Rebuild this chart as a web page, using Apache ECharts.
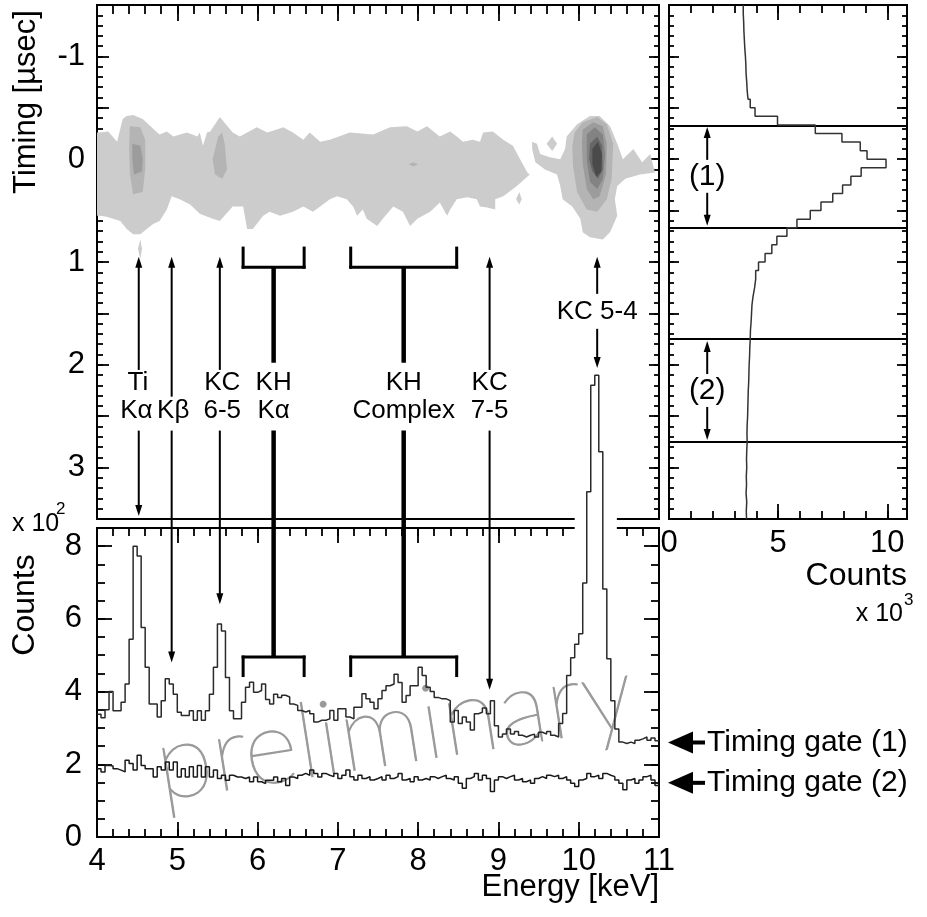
<!DOCTYPE html>
<html><head><meta charset="utf-8">
<script src="https://cdn.jsdelivr.net/npm/echarts@6/dist/echarts.min.js"></script>
<style>html,body{margin:0;padding:0;background:#fff}#c{width:927px;height:917px}</style>
</head><body><div id="c"></div>
<script>
// ---------------- DATA ----------------
const ENERGY_START = 4.0, ENERGY_BIN = 0.05;           // keV
const energyTickLabels = [4,5,6,7,8,9,10,11];
// Timing gate (1) spectrum, counts x10^2 per 0.05 keV bin (4.00 .. 11.00 keV)
const gate1Counts = [
 3.38,3.28,3.50,4.00,3.47,3.47,3.71,4.21,5.44,8.00,
 7.73,5.76,4.67,3.66,3.66,3.30,3.75,4.35,4.21,3.93,
 3.43,3.34,3.34,3.47,3.21,3.47,3.21,3.47,3.93,4.67,
 5.86,5.67,4.39,3.47,3.25,3.25,3.71,4.12,4.26,3.98,
 4.03,4.21,3.78,3.66,3.93,3.84,3.90,3.85,3.66,3.62,
 3.48,3.44,3.48,3.39,3.16,3.21,3.21,3.25,3.48,3.21,
 3.53,3.53,3.30,3.25,3.57,3.57,3.94,3.80,3.71,3.53,
 3.80,4.03,4.16,4.21,4.48,4.25,3.71,3.89,4.16,4.16,
 4.67,4.44,4.12,4.00,3.84,3.80,3.80,3.75,3.16,3.48,
 3.12,3.30,3.16,2.94,3.39,3.43,3.55,3.39,3.75,3.06,
 2.75,2.83,2.97,2.83,2.90,2.80,2.75,2.80,2.83,2.75,
 2.88,2.83,2.90,2.80,2.75,3.12,3.40,4.44,4.93,5.30,
 5.59,6.99,9.50,12.43,12.70,10.60,6.82,4.90,3.75,2.97,
 2.61,2.57,2.61,2.57,2.66,2.70,2.75,2.66,2.72,2.65
];
// Timing gate (2) spectrum
const gate2Counts = [
 1.88,1.79,1.97,1.95,1.88,1.84,1.79,2.11,2.02,1.84,
 2.25,1.97,1.88,1.88,1.65,1.93,1.84,2.06,1.84,2.06,
 1.65,1.88,1.65,1.93,1.65,1.97,1.65,1.93,1.65,1.84,
 1.61,1.70,1.56,1.70,1.65,1.65,1.61,1.65,1.52,1.65,
 1.52,1.47,1.56,1.56,1.65,1.52,1.61,1.42,1.65,1.61,
 1.70,1.75,1.70,1.84,1.75,1.65,1.75,1.70,1.66,1.75,
 1.61,1.70,1.84,1.66,1.57,1.70,1.61,1.66,1.57,1.61,
 1.66,1.57,1.70,1.61,1.66,1.75,1.57,1.61,1.52,1.66,
 1.57,1.61,1.57,1.66,1.61,1.66,1.70,1.61,1.57,1.66,
 1.48,1.34,1.61,1.66,1.75,1.57,1.70,1.61,1.25,1.57,
 1.66,1.61,1.66,1.70,1.57,1.61,1.52,1.57,1.48,1.61,
 1.66,1.61,1.70,1.66,1.70,1.61,1.66,1.57,1.48,1.39,
 1.57,1.61,1.75,1.66,1.70,1.61,1.75,1.70,1.66,1.57,
 1.48,1.30,1.57,1.61,1.48,1.57,1.66,1.70,1.57,1.42
];
// Timing projection, counts x10^3 per 1/12 usec bin (-1.5 .. 3.5 usec)
const TIMING_START = -1.5, TIMING_BIN = 1/12;
const timingCounts = [
 3.40,3.42,3.43,3.45,3.47,3.50,3.52,3.53,3.56,3.58,
 3.62,3.72,3.94,4.97,6.70,7.92,8.76,9.07,9.94,8.80,
 8.33,7.95,7.50,6.96,6.47,5.86,5.40,4.94,4.71,4.40,
 4.10,3.97,3.92,3.85,3.80,3.78,3.76,3.73,3.72,3.70,
 3.69,3.67,3.66,3.65,3.63,3.62,3.61,3.60,3.58,3.57,
 3.58,3.56,3.55,3.56,3.54,3.55,3.53,3.56,3.54,3.55
];
const gate1Range = [-1/3, 2/3];
const gate2Range = [1.75, 2.75];
const timingTickLabels = [-1,0,1,2,3];
const countTickLabels = [0,2,4,6,8];
const projTickLabels = [0,5,10];

// Contour regions (energy keV, timing usec); level 1 = outermost
const bandLevel1 = [[4.00,-0.26],[4.04,-0.26],[4.14,-0.27],[4.25,-0.17],[4.32,-0.39],[4.37,-0.42],[4.45,-0.43],[4.57,-0.39],[4.75,-0.26],[4.78,-0.24],[4.87,-0.27],[4.95,-0.22],[5.12,-0.26],[5.25,-0.22],[5.28,-0.26],[5.32,-0.13],[5.37,-0.26],[5.41,-0.27],[5.53,-0.41],[5.69,-0.26],[5.78,-0.22],[5.87,-0.26],[5.99,-0.31],[6.12,-0.26],[6.24,-0.29],[6.32,-0.31],[6.44,-0.26],[6.57,-0.19],[6.65,-0.26],[6.78,-0.17],[6.90,-0.19],[7.15,-0.26],[7.44,-0.24],[7.65,-0.31],[7.86,-0.32],[7.99,-0.27],[8.11,-0.32],[8.27,-0.22],[8.40,-0.27],[8.48,-0.22],[8.56,-0.17],[8.68,-0.19],[8.77,-0.17],[8.81,-0.26],[8.93,-0.27],[9.06,-0.19],[9.18,-0.13],[9.27,0.00],[9.36,0.13],[9.39,0.15],
 [9.23,0.26],[9.06,0.36],[8.96,0.39],[8.96,0.49],[8.86,0.47],[8.77,0.46],[8.73,0.39],[8.61,0.37],[8.48,0.39],[8.40,0.49],[8.36,0.55],[8.27,0.42],[8.15,0.51],[7.99,0.58],[7.90,0.65],[7.81,0.51],[7.69,0.46],[7.56,0.58],[7.49,0.65],[7.36,0.58],[7.31,0.49],[7.24,0.55],[7.19,0.46],[7.11,0.39],[6.99,0.36],[6.90,0.39],[6.78,0.46],[6.69,0.51],[6.57,0.46],[6.44,0.51],[6.28,0.55],[6.15,0.51],[6.07,0.55],[5.94,0.68],[5.87,0.68],[5.82,0.46],[5.69,0.46],[5.53,0.60],[5.44,0.58],[5.28,0.53],[5.16,0.44],[5.03,0.39],[4.93,0.36],[4.87,0.49],[4.78,0.60],[4.70,0.63],[4.62,0.68],[4.54,0.73],[4.45,0.73],[4.37,0.68],[4.29,0.60],[4.20,0.58],[4.12,0.56],[4.04,0.55],[4.00,0.55]];
const kc54Level1 = [[9.42,-0.17],[9.48,-0.15],[9.52,-0.05],[9.64,-0.02],[9.77,0.00],[9.83,-0.10],[9.85,-0.22],[9.98,-0.34],[10.14,-0.42],[10.26,-0.42],[10.39,-0.32],[10.48,-0.15],[10.55,0.00],[10.68,-0.10],[10.79,0.03],[10.89,-0.05],[10.95,0.13],[10.76,0.15],[10.58,0.19],[10.48,0.26],[10.45,0.39],[10.48,0.55],[10.39,0.71],[10.30,0.78],[10.14,0.76],[10.05,0.71],[10.02,0.58],[9.92,0.46],[9.80,0.39],[9.77,0.26],[9.73,0.15],[9.58,0.10],[9.46,0.03],[9.42,-0.10]];
const islandLevel1a = [[9.67,-0.22],[9.73,-0.15],[9.67,-0.08],[9.60,-0.15]];
const islandLevel1b = [[9.26,0.32],[9.29,0.39],[9.26,0.44],[9.22,0.39]];
const islandLevel1c = [[4.54,0.78],[4.56,0.87],[4.54,0.97],[4.51,0.87]];
const tiLevel2 = [[4.41,-0.32],[4.54,-0.31],[4.60,-0.19],[4.60,0.10],[4.57,0.32],[4.45,0.34],[4.41,0.15],[4.40,-0.10]];
const tiLevel3 = [[4.44,-0.15],[4.54,-0.13],[4.57,0.00],[4.56,0.12],[4.46,0.15],[4.44,0.00]];
const kc65Level2 = [[5.51,-0.22],[5.56,-0.26],[5.59,-0.15],[5.62,0.10],[5.56,0.19],[5.47,0.15],[5.44,0.00]];
const khLevel2 = [[7.94,0.03],[8.00,0.05],[7.94,0.07],[7.88,0.05]];
const kc54Level2 = [[9.95,-0.26],[10.05,-0.36],[10.23,-0.41],[10.35,-0.34],[10.43,-0.15],[10.41,0.19],[10.35,0.39],[10.23,0.51],[10.10,0.49],[9.98,0.32],[9.93,0.07],[9.92,-0.13]];
const kc54Level3 = [[10.05,-0.29],[10.18,-0.36],[10.30,-0.32],[10.35,-0.15],[10.34,0.15],[10.26,0.36],[10.18,0.39],[10.10,0.29],[10.05,0.05],[10.04,-0.15]];
const kc54Level4 = [[10.10,-0.24],[10.20,-0.31],[10.30,-0.24],[10.33,-0.05],[10.30,0.19],[10.23,0.29],[10.14,0.22],[10.10,0.00]];
const kc54Level5 = [[10.14,-0.15],[10.23,-0.22],[10.29,-0.13],[10.30,0.10],[10.24,0.19],[10.17,0.12],[10.13,0.00]];
const kc54Level6 = [[10.17,-0.10],[10.24,-0.17],[10.29,-0.05],[10.28,0.12],[10.22,0.17],[10.17,0.05]];
const contourRegions = [
 {level:1, pts:bandLevel1},{level:1, pts:kc54Level1},{level:1, pts:islandLevel1a},{level:1, pts:islandLevel1b},{level:1, pts:islandLevel1c},
 {level:2, pts:tiLevel2},{level:2, pts:kc65Level2},{level:2, pts:khLevel2},{level:2, pts:kc54Level2},
 {level:3, pts:tiLevel3},{level:3, pts:kc54Level3},
 {level:4, pts:kc54Level4},{level:5, pts:kc54Level5},{level:6, pts:kc54Level6}
];

// Line annotations (energies in keV)
const lineMarks = [
 {energy:4.52, text:['Ti','Kα'], textEnergy:[4.51,4.49], upFrom:2.05, downTip:{panel:'t', v:3.47}},
 {energy:4.93, text:[null,'Kβ'], textEnergy:[4.95,4.95], upFrom:2.31, downTip:{panel:'c', v:4.80}},
 {energy:5.53, text:['KC','6-5'], textEnergy:[5.56,5.56], upFrom:2.05, downTip:{panel:'c', v:6.40}},
 {energy:8.89, text:['KC','7-5'], textEnergy:[8.89,8.89], upFrom:2.05, downTip:{panel:'c', v:4.05}}
];
const bracketMarks = [
 {from:5.82, to:6.58, stem:6.20, text:['KH','Kα']},
 {from:7.16, to:8.48, stem:7.82, text:['KH','Complex']}
];
const kc54Mark = {energy:10.23, text:'KC 5-4'};

// ---------------- STYLES ----------------
const FONT = '"Liberation Sans", Arial, Helvetica, sans-serif';
const contourColors = ['#cccccc','#b4b4b4','#9c9c9c','#838383','#666666','#4a4a4a'];
const GRID_TOP = {left:97, top:5, width:562, height:514};
const GRID_BOT = {left:97, top:528, width:562, height:309};
const GRID_RIGHT = {left:669, top:5, width:238, height:514};

function ax(grid, pos, min, max, interval, len, extra) {
  return Object.assign({
    gridIndex: grid, type: 'value', position: pos, min: min, max: max, interval: interval,
    axisLine: {show: false, onZero: false},
    axisTick: {show: true, inside: true, length: len, lineStyle: {color: '#000', width: 1.8}},
    axisLabel: {show: false},
    splitLine: {show: false}
  }, extra || {});
}
function lbl(list, margin) {
  return {axisLabel: {show: true, fontSize: 31, fontFamily: FONT, color: '#000', margin: margin,
    formatter: v => { const r = Math.round(v); return (Math.abs(v - r) < 1e-6 && list.indexOf(r) >= 0) ? String(r) : ''; }}};
}
const tInv = {inverse: true};

const xAxes = [
  ax(0,'top',4,11,1,16),                         // 0
  ax(0,'top',4,11,0.2,9),                        // 1
  ax(1,'bottom',4,11,1,15, lbl(energyTickLabels,9)), // 2
  ax(1,'bottom',4,11,0.2,8),                     // 3
  ax(1,'top',4,11,1,15),                         // 4
  ax(1,'top',4,11,0.2,8),                        // 5
  ax(2,'bottom',0,10.9,5,15, lbl(projTickLabels,9)), // 6
  ax(2,'bottom',0,10.9,1,8),                     // 7
  ax(2,'top',0,10.9,5,15),                       // 8
  ax(2,'top',0,10.9,1,8)                         // 9
];
const yAxes = [
  ax(0,'left',-1.5,3.5,0.5,12, Object.assign({}, tInv, lbl(timingTickLabels,12))), // 0
  ax(0,'left',-1.5,3.5,0.1,6, tInv),    // 1
  ax(0,'right',-1.5,3.5,0.5,10, tInv),  // 2
  ax(0,'right',-1.5,3.5,0.1,5, tInv),   // 3
  ax(1,'left',0,8.5,2,15, lbl(countTickLabels,15)), // 4
  ax(1,'left',0,8.5,0.5,8),             // 5
  ax(1,'right',0,8.5,2,15),             // 6
  ax(1,'right',0,8.5,0.5,8),            // 7
  ax(2,'left',-1.5,3.5,0.5,10, tInv),   // 8
  ax(2,'left',-1.5,3.5,0.1,5, tInv),    // 9
  ax(2,'right',-1.5,3.5,0.5,10, tInv),  // 10
  ax(2,'right',-1.5,3.5,0.1,5, tInv)    // 11
];

function stepData(counts) {
  const d = counts.map((v, i) => [ENERGY_START + i * ENERGY_BIN, v]);
  d.push([ENERGY_START + counts.length * ENERGY_BIN, counts[counts.length - 1]]);
  return d;
}
const projData = [];
timingCounts.forEach((v, j) => {
  projData.push([v, TIMING_START + j * TIMING_BIN]);
  projData.push([v, TIMING_START + (j + 1) * TIMING_BIN]);
});

const gridStyle = {show: true, borderColor: '#000', borderWidth: 2, backgroundColor: 'transparent'};
const option = {
  animation: false,
  backgroundColor: '#fff',
  grid: [Object.assign({}, GRID_TOP, gridStyle), Object.assign({}, GRID_BOT, gridStyle), Object.assign({}, GRID_RIGHT, gridStyle)],
  xAxis: xAxes,
  yAxis: yAxes,
  series: [
    {
      type: 'custom', xAxisIndex: 0, yAxisIndex: 0, z: 2, silent: true,
      data: contourRegions.map(r => r.pts[0]),
      renderItem: (params, api) => {
        const r = contourRegions[params.dataIndex];
        return {type: 'polygon', shape: {points: r.pts.map(p => api.coord(p))},
          style: {fill: contourColors[r.level - 1], stroke: 'none'}};
      }
    },
    {type: 'line', xAxisIndex: 2, yAxisIndex: 4, step: 'end', data: stepData(gate2Counts),
     symbol: 'none', lineStyle: {color: '#1a1a1a', width: 1.5}, z: 5, clip: true, silent: true},
    {type: 'line', xAxisIndex: 2, yAxisIndex: 4, step: 'end', data: stepData(gate1Counts),
     symbol: 'none', lineStyle: {color: '#2a2a2a', width: 1.5}, z: 6, clip: false, silent: true},
    {type: 'line', xAxisIndex: 6, yAxisIndex: 8, data: projData,
     symbol: 'none', lineStyle: {color: '#333', width: 1.5}, z: 5, silent: true,
     markLine: {silent: true, symbol: ['none','none'], label: {show: false},
       lineStyle: {color: '#000', width: 2, type: 'solid'},
       data: gate1Range.concat(gate2Range).map(v => ({yAxis: v}))}}
  ]
};

const chart = echarts.init(document.getElementById('c'), null, {renderer: 'canvas', width: 927, height: 917});
chart.setOption(option);

// ---------------- ANNOTATIONS ----------------
const X = e => chart.convertToPixel({xAxisIndex: 2}, e);
const YT = t => chart.convertToPixel({yAxisIndex: 0}, t);
const YB = c => chart.convertToPixel({yAxisIndex: 4}, c);
const XR = c => chart.convertToPixel({xAxisIndex: 6}, c);
const YR = t => chart.convertToPixel({yAxisIndex: 8}, t);

const els = [];
const Z = 20;
function seg(x1, y1, x2, y2, w) {
  els.push({type: 'line', z: Z, silent: true, shape: {x1, y1, x2, y2}, style: {stroke: '#000', lineWidth: w, lineCap: 'butt'}});
}
function vArrow(x, yFrom, yTip) {
  const dir = yTip > yFrom ? 1 : -1;
  seg(x, yFrom, x, yTip - dir * 8, 2);
  els.push({type: 'polygon', z: Z, silent: true, shape: {points: [[x, yTip], [x - 3.5, yTip - dir * 11], [x + 3.5, yTip - dir * 11]]}, style: {fill: '#000'}});
}
function txt(x, y, s, size, align, extra) {
  els.push(Object.assign({type: 'text', z: Z, silent: true, x, y,
    style: {text: s, font: size + 'px ' + FONT, fill: '#000', align: align || 'center', verticalAlign: 'middle'}}, extra || {}));
}
const ROW = [2.18, 2.45];      // label rows (timing units of top panel)
const UP_TIP = 0.95, DOWN_FROM = 2.64;

lineMarks.forEach(m => {
  const x = X(m.energy);
  vArrow(x, YT(m.upFrom), YT(UP_TIP));
  const tip = m.downTip.panel === 't' ? YT(m.downTip.v) : YB(m.downTip.v);
  vArrow(x, YT(DOWN_FROM), tip);
  m.text.forEach((s, i) => { if (s) txt(X(m.textEnergy[i]), YT(ROW[i]), s, 26); });
});
bracketMarks.forEach(b => {
  const x1 = X(b.from), x2 = X(b.to), xs = X(b.stem);
  const yTopLeg = YT(0.85), yTopBar = YT(1.05);
  seg(x1, yTopLeg, x1, yTopBar + 1.5, 3); seg(x2, yTopLeg, x2, yTopBar + 1.5, 3);
  seg(x1 - 1.5, yTopBar, x2 + 1.5, yTopBar, 3);
  seg(xs, yTopBar, xs, YT(1.98), 4.5);
  const yBar = YB(4.95), yLeg = YB(4.40);
  seg(xs, YT(DOWN_FROM), xs, yBar, 4.5);
  seg(x1 - 1.5, yBar, x2 + 1.5, yBar, 3);
  seg(x1, yBar - 1.5, x1, yLeg, 3); seg(x2, yBar - 1.5, x2, yLeg, 3);
  b.text.forEach((s, i) => txt(xs, YT(ROW[i]), s, 26));
});
{
  const x = X(kc54Mark.energy);
  vArrow(x, YT(1.31), YT(UP_TIP));
  txt(x, YT(1.48), kc54Mark.text, 26);
  vArrow(x, YT(1.65), YT(2.03));
}
// gap where the KC 5-4 peak passes between the panels
{
  const over = [];
  gate1Counts.forEach((v, i) => { if (v > 8.5) over.push(i); });
  const e1 = ENERGY_START + (over[0] - 3) * ENERGY_BIN;
  const e2 = ENERGY_START + (over[over.length - 1] + 1 + 3.5) * ENERGY_BIN;
  const x1 = X(e1), x2 = X(e2);
  els.push({type: 'rect', z: 3, silent: true, shape: {x: x1, y: YT(3.5) - 3, width: x2 - x1, height: YB(8.5) - YT(3.5) + 19}, style: {fill: '#fff'}});
}
// timing gates in the projection panel
[[gate1Range, '(1)'], [gate2Range, '(2)']].forEach(([r, s]) => {
  const x = XR(1.75), mid = (r[0] + r[1]) / 2;
  txt(x, YR(mid), s, 30);
  vArrow(x, YR(mid - 0.16), YR(r[0]) + 2);
  vArrow(x, YR(mid + 0.16), YR(r[1]) - 2);
});
// gate labels at the right of the spectrum
[[2.60, 'Timing gate (1)'], [1.49, 'Timing gate (2)']].forEach(([c, s]) => {
  const y = YB(c), xr = GRID_BOT.left + GRID_BOT.width;
  els.push({type: 'polygon', z: Z, silent: true, shape: {points: [[xr + 9, y], [xr + 34, y - 11], [xr + 34, y + 11]]}, style: {fill: '#000'}});
  seg(xr + 30, y, xr + 46, y, 4);
  txt(xr + 48, y, s, 30, 'left');
});
// axis titles
txt(26, 102, 'Timing [µsec]', 31, 'center', {rotation: Math.PI / 2});
txt(25, 605, 'Counts', 32, 'center', {rotation: Math.PI / 2});
txt(12, 524, 'x 10', 25, 'left');
txt(56, 509, '2', 17, 'left');
txt(659, 887, 'Energy [keV]', 31, 'right');
txt(907, 576, 'Counts', 32, 'right');
txt(903, 614, 'x 10', 25, 'right');
txt(904, 600, '3', 17, 'left');
// watermark
els.push({type: 'text', z: 4, silent: true, x: 394, y: 730, rotation: 0.155,
  style: {text: 'preliminary', font: '100 104px Lato, "Liberation Sans", sans-serif', fill: '#9a9a9a',
    stroke: '#9a9a9a', lineWidth: 1.1, align: 'center', verticalAlign: 'middle'}});

chart.setOption({graphic: els});
</script></body></html>
